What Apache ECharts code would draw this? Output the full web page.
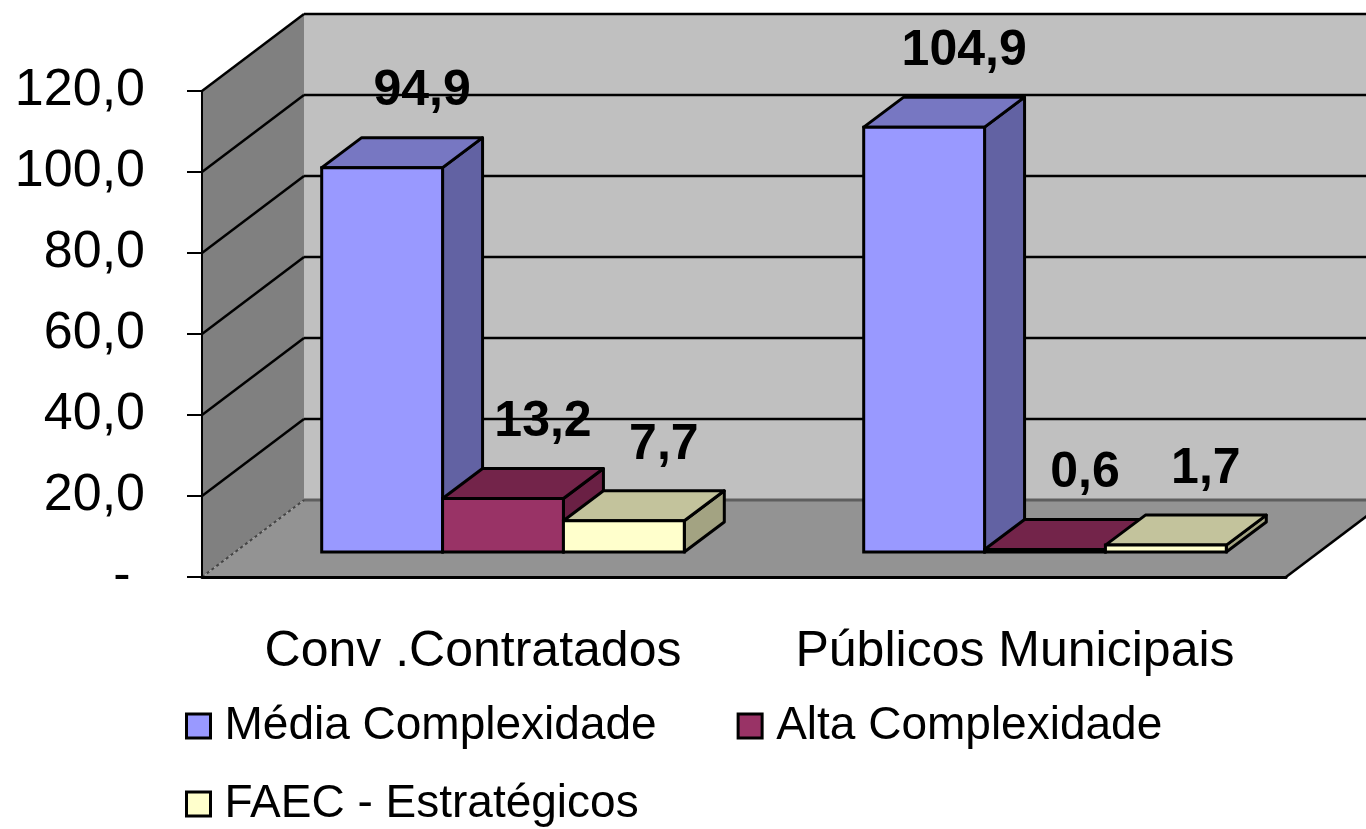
<!DOCTYPE html>
<html>
<head>
<meta charset="utf-8">
<script src="https://cdn.jsdelivr.net/npm/echarts@6/dist/echarts.min.js"></script>
<style>
html,body{margin:0;padding:0;background:#fff}
#grafico{width:1366px;height:829px}
</style>
</head>
<body>
<div id="grafico"></div>
<script>
var categorias = ['Conv .Contratados', 'Públicos Municipais'];
var nomesSeries = ['Média Complexidade', 'Alta Complexidade', 'FAEC - Estratégicos'];
var media = [94.9, 104.9];
var alta = [13.2, 0.6];
var faec = [7.7, 1.7];
var ticksY = [0, 20, 40, 60, 80, 100, 120];

var cores = [
  {frente: '#9999ff', topo: '#7777c2', lado: '#6262a3'},
  {frente: '#993366', topo: '#73244a', lado: '#6a2044'},
  {frente: '#ffffcc', topo: '#c3c39c', lado: '#a3a382'}
];
// perspectiva "3D" do excel
var PAREDE_DX = 102, PAREDE_DY = -77;
var DESLOC_X = 30, DESLOC_Y = -25;
var PROF_X = 40, PROF_Y = -30;
var LARG_BARRA = 0.223;
var FONTE = '"Liberation Sans", Arial, sans-serif';

function fmt(v) {
  return v.toFixed(1).replace('.', ',');
}

function renderParedes(params, api) {
  var cs = params.coordSys;
  var x = cs.x, w = cs.width;
  var yTopo = api.coord([0, ticksY[ticksY.length - 1]])[1];
  var yBase = api.coord([0, 0])[1];
  var dx = PAREDE_DX, dy = PAREDE_DY;
  var filhos = [];
  // fundo
  filhos.push({type: 'polygon', shape: {points: [[x + dx, yTopo + dy], [x + w + dx, yTopo + dy], [x + w + dx, yBase + dy], [x + dx, yBase + dy]]}, style: {fill: '#c0c0c0'}});
  // parede esquerda
  filhos.push({type: 'polygon', shape: {points: [[x, yTopo], [x + dx, yTopo + dy], [x + dx, yBase + dy], [x, yBase]]}, style: {fill: '#808080'}});
  // chao
  filhos.push({type: 'polygon', shape: {points: [[x, yBase], [x + dx, yBase + dy], [x + w + dx, yBase + dy], [x + w, yBase]]}, style: {fill: '#939393'}});
  filhos.push({type: 'line', shape: {x1: x + dx, y1: yBase + dy, x2: x + w + dx, y2: yBase + dy}, style: {stroke: '#5e5e5e', lineWidth: 3}});
  filhos.push({type: 'line', shape: {x1: x, y1: yBase, x2: x + dx, y2: yBase + dy}, style: {stroke: '#444', lineWidth: 2, lineDash: [3, 3]}});
  filhos.push({type: 'line', shape: {x1: x + w, y1: yBase, x2: x + w + dx, y2: yBase + dy}, style: {stroke: '#000', lineWidth: 2.5}});
  // linhas de grade
  for (var i = 1; i < ticksY.length; i++) {
    var yv = api.coord([0, ticksY[i]])[1];
    filhos.push({type: 'line', shape: {x1: x, y1: yv, x2: x + dx, y2: yv + dy}, style: {stroke: '#000', lineWidth: 2.5}});
    filhos.push({type: 'line', shape: {x1: x + dx, y1: yv + dy, x2: x + w + dx, y2: yv + dy}, style: {stroke: '#000', lineWidth: 2.5}});
  }
  return {type: 'group', children: filhos};
}

function renderBarra(params, api) {
  var k = params.seriesIndex - 1;
  var cat = api.value(0), val = api.value(1);
  var base = api.coord([cat, 0]);
  var topo = api.coord([cat, val]);
  var banda = api.size([1, 0])[0];
  var bw = banda * LARG_BARRA;
  var x0 = base[0] - 1.5 * bw + k * bw + DESLOC_X;
  var x1 = x0 + bw;
  var yb = base[1] + DESLOC_Y;
  var yt = topo[1] + DESLOC_Y;
  var c = cores[k];
  return {
    type: 'group',
    children: [
      {type: 'polygon', shape: {points: [[x1, yb], [x1 + PROF_X, yb + PROF_Y], [x1 + PROF_X, yt + PROF_Y], [x1, yt]]},
        style: {fill: c.lado, stroke: '#000', lineWidth: 3, lineJoin: 'round'}},
      {type: 'polygon', shape: {points: [[x0, yt], [x1, yt], [x1 + PROF_X, yt + PROF_Y], [x0 + PROF_X, yt + PROF_Y]]},
        style: {fill: c.topo, stroke: '#000', lineWidth: 3, lineJoin: 'round'}},
      {type: 'rect', shape: {x: x0, y: yt, width: bw, height: yb - yt},
        style: {fill: c.frente, stroke: '#000', lineWidth: 3}},
      {type: 'text', z2: 100, x: (x0 + x1) / 2 + PROF_X, y: yt + PROF_Y - 46,
        style: {text: fmt(val), font: 'bold 50px ' + FONTE, fill: '#000',
          align: 'center', verticalAlign: 'middle', textAlign: 'center', textVerticalAlign: 'middle'}}
    ]
  };
}

function serieBarra(k, valores) {
  return {
    name: nomesSeries[k],
    type: 'custom',
    z: 2,
    itemStyle: {color: cores[k].frente},
    renderItem: renderBarra,
    encode: {x: 0, y: 1},
    data: valores.map(function (v, i) { return [i, v]; })
  };
}

var grafico = echarts.init(document.getElementById('grafico'));
var legendaBase = {
  icon: 'rect',
  itemWidth: 24,
  itemHeight: 24,
  itemGap: 80,
  selectedMode: false,
  itemStyle: {borderColor: '#000', borderWidth: 3},
  textStyle: {fontSize: 46, fontFamily: FONTE, color: '#000', padding: [0, 0, 0, 9]}
};
var option = {
  backgroundColor: '#fff',
  animation: false,
  grid: {left: 202, right: 80, top: 91, bottom: 252},
  legend: [
    Object.assign({left: 180, top: 698, data: [nomesSeries[0], nomesSeries[1]]}, legendaBase),
    Object.assign({left: 180, top: 776, data: [nomesSeries[2]]}, legendaBase)
  ],
  xAxis: {
    type: 'category',
    data: categorias,
    z: 5,
    axisLine: {lineStyle: {color: '#000', width: 3}},
    axisTick: {length: 17, lineStyle: {color: '#000', width: 2}},
    axisLabel: {interval: 0, fontSize: 50, fontFamily: FONTE, color: '#000', margin: 50}
  },
  yAxis: {
    type: 'value',
    min: 0,
    max: 120,
    interval: 20,
    z: 5,
    axisLine: {show: true, lineStyle: {color: '#000', width: 2}},
    axisTick: {show: true, length: 15, lineStyle: {color: '#000', width: 2}},
    splitLine: {show: false},
    axisLabel: {
      fontSize: 52, fontFamily: FONTE, color: '#000', margin: 57,
      formatter: function (v) { return v === 0 ? '- ' : fmt(v); }
    }
  },
  series: [
    {type: 'custom', name: 'paredes', z: 1, silent: true, renderItem: renderParedes, encode: {x: 0, y: 1}, data: [[0, 0]]},
    serieBarra(0, media),
    serieBarra(1, alta),
    serieBarra(2, faec)
  ]
};
grafico.setOption(option);
</script>
</body>
</html>
